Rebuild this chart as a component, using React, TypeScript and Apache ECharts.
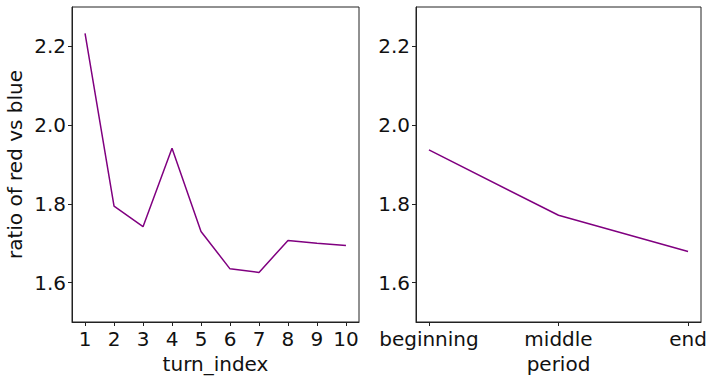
import React, { useEffect, useRef } from "react";
import * as echarts from "echarts";

const turnIndex = [1, 2, 3, 4, 5, 6, 7, 8, 9, 10];
const turnRatio = [2.233, 1.794, 1.742, 1.941, 1.730, 1.635, 1.626, 1.707, 1.700, 1.694];
const periods = ["beginning", "middle", "end"];
const periodRatio = [1.937, 1.771, 1.679];
const yTicks = [1.6, 1.8, 2.0, 2.2];

const FONT = "DejaVu Sans";
const FS = 20;
const LINE = "#800080";

export default function App() {
  const ref = useRef<HTMLDivElement>(null);
  useEffect(() => {
    const chart = echarts.init(ref.current!, null, { renderer: "svg" });
    const axisCommon = {
      axisLine: { show: true, onZero: false, lineStyle: { color: "#222", width: 1 } },
      axisTick: { show: true, inside: false, length: 4, lineStyle: { color: "#222", width: 1 } },
      splitLine: { show: false },
      nameTextStyle: { fontFamily: FONT, fontSize: FS, color: "#111" },
    };
    const yAxis = (gi: number, name: string) => ({
      ...axisCommon,
      type: "value",
      gridIndex: gi,
      min: 1.5,
      max: 2.3,
      name,
      nameLocation: "middle",
      nameGap: 47,
      axisTick: { ...axisCommon.axisTick, customValues: yTicks },
      axisLabel: {
        customValues: yTicks,
        fontFamily: FONT,
        fontSize: FS,
        color: "#111",
        margin: 6,
        formatter: (v: number) => v.toFixed(1),
      },
    });
    chart.setOption({
      animation: false,
      grid: [
        { left: 72, top: 7, width: 287, height: 315, show: true, borderColor: "#222", borderWidth: 1 },
        { left: 416, top: 7, width: 285, height: 315, show: true, borderColor: "#222", borderWidth: 1 },
      ],
      xAxis: [
        {
          ...axisCommon,
          type: "value",
          gridIndex: 0,
          min: 0.55,
          max: 10.45,
          name: "turn_index",
          nameLocation: "middle",
          nameGap: 29,
          axisTick: { ...axisCommon.axisTick, customValues: turnIndex },
          axisLabel: { customValues: turnIndex, fontFamily: FONT, fontSize: FS, color: "#111", margin: 7 },
        },
        {
          ...axisCommon,
          type: "value",
          gridIndex: 1,
          min: -0.1,
          max: 2.1,
          name: "period",
          nameLocation: "middle",
          nameGap: 29,
          axisTick: { ...axisCommon.axisTick, customValues: [0, 1, 2] },
          axisLabel: {
            customValues: [0, 1, 2],
            fontFamily: FONT,
            fontSize: FS,
            color: "#111",
            margin: 7,
            formatter: (v: number) => periods[Math.round(v)] ?? "",
          },
        },
      ],
      yAxis: [yAxis(0, "ratio of red vs blue"), yAxis(1, "")],
      series: [
        {
          type: "line",
          xAxisIndex: 0,
          yAxisIndex: 0,
          data: turnIndex.map((x, i) => [x, turnRatio[i]]),
          showSymbol: false,
          lineStyle: { color: LINE, width: 1.5 },
          itemStyle: { color: LINE },
        },
        {
          type: "line",
          xAxisIndex: 1,
          yAxisIndex: 1,
          data: periods.map((_, i) => [i, periodRatio[i]]),
          showSymbol: false,
          lineStyle: { color: LINE, width: 1.5 },
          itemStyle: { color: LINE },
        },
      ],
    });
    return () => chart.dispose();
  }, []);
  return (
    <div
      ref={ref}
      style={{ position: "absolute", left: 0, top: 0, width: 715, height: 382, background: "#fff" }}
    />
  );
}
